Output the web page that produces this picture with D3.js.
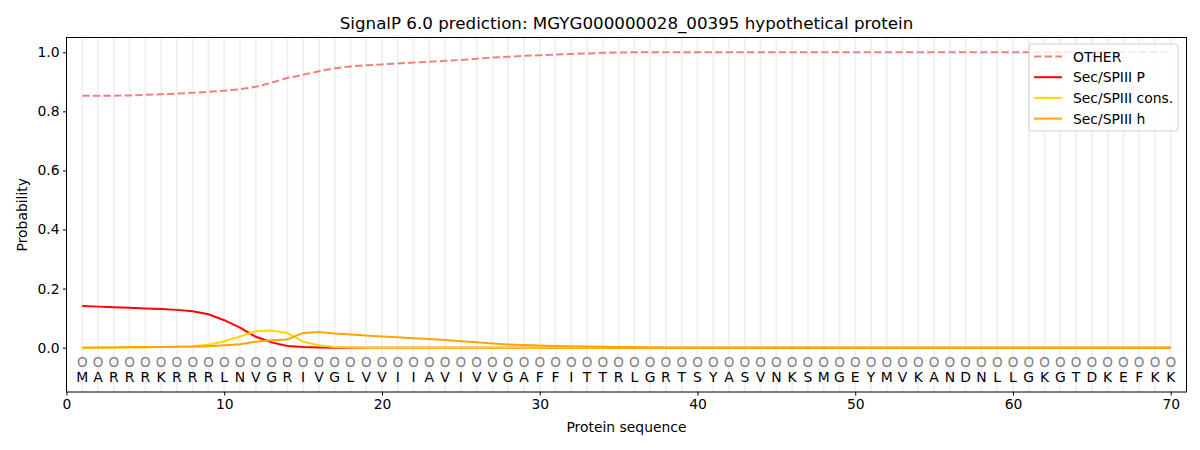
<!DOCTYPE html>
<html>
<head>
<meta charset="utf-8">
<script src="https://cdn.jsdelivr.net/npm/d3@7"></script>
<style>
  html, body { margin: 0; padding: 0; background: #fff; }
  svg { display: block; font-family: "DejaVu Sans", sans-serif; }
</style>
</head>
<body>
<svg id="chart" width="1200" height="450"></svg>
<script>
const sequence = "MARRRKRRRLNVGRIVGLVVIIAVIVVGAFFITTRLGRTSYASVNKSMGEYMVKANDNLLGKGTDKEFKK".split("");
const positions = sequence.map((_, i) => i + 1);

const otherValues = [0.853,0.853,0.853,0.854,0.856,0.858,0.860,0.863,0.866,0.870,
  0.875,0.883,0.897,0.913,0.924,0.936,0.946,0.952,0.956,0.959,
  0.962,0.965,0.968,0.971,0.974,0.978,0.982,0.985,0.988,0.990,
  0.992,0.994,0.996,0.998,0.999,1,1,1,1,1,
  1,1,1,1,1,1,1,1,1,1,
  1,1,1,1,1,1,1,1,1,1,
  1,1,1,1,1,1,1,1,1,1];
const secPValues = [0.141,0.139,0.137,0.135,0.133,0.131,0.128,0.123,0.113,0.093,
  0.068,0.037,0.018,0.006,0.002,0.001,0,0,0,0,
  0,0,0,0,0,0,0,0,0,0,0,0,0,0,0,0,0,0,0,0,
  0,0,0,0,0,0,0,0,0,0,0,0,0,0,0,0,0,0,0,0,
  0,0,0,0,0,0,0,0,0,0];
const secConsValues = [0,0,0.001,0.001,0.001,0.002,0.003,0.005,0.01,0.022,
  0.038,0.056,0.058,0.05,0.02,0.008,0.002,0.001,0,0,
  0,0,0,0,0,0,0,0,0,0,0,0,0,0,0,0,0,0,0,0,
  0,0,0,0,0,0,0,0,0,0,0,0,0,0,0,0,0,0,0,0,
  0,0,0,0,0,0,0,0,0,0];
const secHValues = [0,0.001,0.001,0.002,0.002,0.002,0.003,0.003,0.005,0.008,
  0.012,0.02,0.025,0.028,0.05,0.053,0.048,0.045,0.041,0.038,
  0.035,0.032,0.029,0.026,0.022,0.018,0.014,0.011,0.009,0.007,
  0.006,0.005,0.004,0.003,0.002,0.002,0.001,0,0,0,
  0,0,0,0,0,0,0,0,0,0,0,0,0,0,0,0,0,0,0,0,
  0,0,0,0,0,0,0,0,0,0];

const seriesNames = ["OTHER", "Sec/SPIII P", "Sec/SPIII cons.", "Sec/SPIII h"];
const seriesValues = [otherValues, secPValues, secConsValues, secHValues];
const seriesColors = ["#f08080", "#ff0000", "#ffd700", "#ffa500"];
const seriesDash = ["7.4,3.2", null, null, null];

const xTicks = [0, 10, 20, 30, 40, 50, 60, 70];
const yTicks = [0, 0.2, 0.4, 0.6, 0.8, 1.0];

const svg = d3.select("#chart");
const margin = { left: 66.5, right: 1186.5, top: 37.5, bottom: 392 };

const x = d3.scaleLinear().domain([0, 71]).range([margin.left, margin.right]);
const y = d3.scaleLinear().domain([-0.15, 1.05]).range([margin.bottom, margin.top]);

// vertical grid lines at each residue
svg.append("g").selectAll("line").data(positions).join("line")
  .attr("x1", d => x(d)).attr("x2", d => x(d))
  .attr("y1", margin.top).attr("y2", margin.bottom)
  .attr("stroke", "#f1f1f1").attr("stroke-width", 2);

// lines
const line = d3.line().x((d, i) => x(positions[i])).y(d => y(d));
seriesValues.forEach((vals, k) => {
  svg.append("path").datum(vals)
    .attr("fill", "none")
    .attr("stroke", seriesColors[k])
    .attr("stroke-width", 2)
    .attr("stroke-dasharray", seriesDash[k])
    .attr("d", line);
});

// sequence markers and letters
svg.append("g").selectAll("text").data(positions).join("text")
  .attr("x", d => x(d)).attr("y", y(-0.05) + 5)
  .attr("text-anchor", "middle").attr("font-size", 13.5)
  .attr("fill", "#808080").text("O");
svg.append("g").selectAll("text").data(sequence).join("text")
  .attr("x", (d, i) => x(positions[i])).attr("y", y(-0.1) + 5)
  .attr("text-anchor", "middle").attr("font-size", 13.9)
  .attr("fill", "#000").text(d => d);

// frame
svg.append("rect")
  .attr("x", margin.left).attr("y", margin.top)
  .attr("width", margin.right - margin.left).attr("height", margin.bottom - margin.top)
  .attr("fill", "none").attr("stroke", "#000").attr("stroke-width", 1);

// axes
const xAxis = svg.append("g").attr("transform", `translate(0,${margin.bottom})`)
  .call(d3.axisBottom(x).tickValues(xTicks).tickSize(3.5).tickPadding(3.5).tickFormat(d3.format("d")));
const yAxis = svg.append("g").attr("transform", `translate(${margin.left},0)`)
  .call(d3.axisLeft(y).tickValues(yTicks).tickSize(3.5).tickPadding(3.5).tickFormat(d3.format(".1f")));
[xAxis, yAxis].forEach(a => {
  a.select(".domain").remove();
  a.selectAll("text").attr("font-size", 13.9).attr("font-family", "DejaVu Sans").attr("fill", "#000");
  a.selectAll("line").attr("stroke", "#000");
});

// labels
svg.append("text").attr("x", (margin.left + margin.right) / 2).attr("y", 432)
  .attr("text-anchor", "middle").attr("font-size", 13.9).text("Protein sequence");
svg.append("text").attr("transform", `translate(27,${(margin.top + margin.bottom) / 2}) rotate(-90)`)
  .attr("text-anchor", "middle").attr("font-size", 13.9).text("Probability");
svg.append("text").attr("x", (margin.left + margin.right) / 2).attr("y", 29)
  .attr("text-anchor", "middle").attr("font-size", 16.7)
  .text("SignalP 6.0 prediction: MGYG000000028_00395 hypothetical protein");

// legend
const lg = svg.append("g").attr("transform", "translate(1029,44)");
lg.append("rect").attr("width", 149).attr("height", 87).attr("rx", 3)
  .attr("fill", "#fff").attr("fill-opacity", 0.8).attr("stroke", "#d0d0d0");
seriesNames.forEach((name, k) => {
  const yy = 12.5 + k * 20.7;
  lg.append("line").attr("x1", 5).attr("x2", 33).attr("y1", yy).attr("y2", yy)
    .attr("stroke", seriesColors[k]).attr("stroke-width", 2)
    .attr("stroke-dasharray", seriesDash[k]);
  lg.append("text").attr("x", 44).attr("y", yy + 5).attr("font-size", 13.9).text(name);
});
</script>
</body>
</html>
